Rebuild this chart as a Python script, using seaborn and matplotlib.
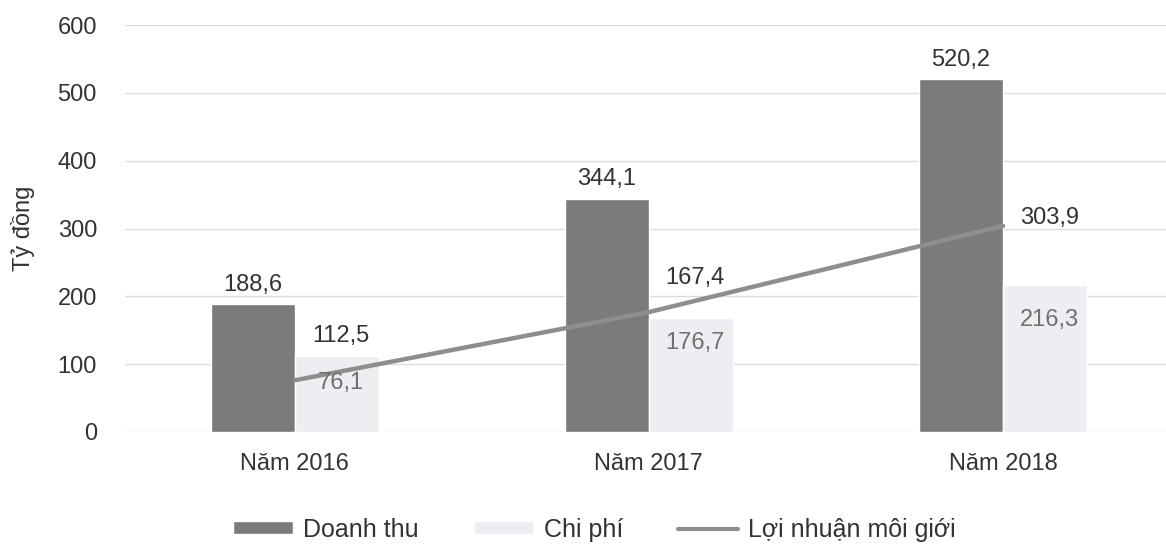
import pandas as pd
import matplotlib.pyplot as plt
import seaborn as sns
from matplotlib.patches import Patch
from matplotlib.lines import Line2D

# Dữ liệu
nam = ['Năm 2016', 'Năm 2017', 'Năm 2018']
doanh_thu = [188.6, 344.1, 520.2]
chi_phi = [112.5, 167.4, 216.3]
loi_nhuan = [76.1, 176.7, 303.9]

df = pd.DataFrame({
    'nam': nam * 2,
    'gia_tri': doanh_thu + chi_phi,
    'loai': ['Doanh thu'] * 3 + ['Chi phí'] * 3,
})

sns.set_style('white')
plt.rcParams['font.family'] = ['Liberation Sans', 'DejaVu Sans']

fig = plt.figure(figsize=(11.66, 5.46), dpi=100)
ax = fig.add_axes([0.107, 0.209, 0.893, 0.745])

mau_dam = '#7b7b7b'
mau_nhat = '#eceef2'
mau_line = '#8e8e8e'
mau_chu = '#333333'
mau_xam = '#707070'

sns.barplot(data=df, x='nam', y='gia_tri', hue='loai', ax=ax, width=0.475,
            palette=[mau_dam, mau_nhat], saturation=1, legend=False)
sns.lineplot(x=[0, 1, 2], y=loi_nhuan, ax=ax, color=mau_line, linewidth=3.2)

ax.set_xlim(-0.48, 2.46)
ax.set_ylim(0, 600)
ax.set_yticks(range(0, 601, 100))
ax.grid(axis='y', color='#dcdcdc', linewidth=1)
ax.set_axisbelow(True)
for s in ax.spines.values():
    s.set_visible(False)
ax.tick_params(axis='y', length=0, pad=20, labelsize=17, labelcolor=mau_chu)
ax.tick_params(axis='x', length=0, pad=15, labelsize=17, labelcolor=mau_chu)
ax.set_xlabel('')
ax.set_ylabel('Tỷ đồng', fontsize=17, color=mau_chu, labelpad=16)

def fmt(v):
    return f'{v:.1f}'.replace('.', ',')

# nhãn giá trị: độ lệch (pixel) so với giá trị, màu chữ
off_cp = [20, 40, -35]
mau_cp = [mau_chu, mau_chu, mau_xam]
off_ln = [-3, -31, 8]
mau_ln = [mau_xam, mau_xam, mau_chu]
for i in range(3):
    ax.annotate(fmt(doanh_thu[i]), (i - 0.119, doanh_thu[i]), xytext=(0, 14),
                textcoords='offset points', ha='center', va='center',
                fontsize=17, color=mau_chu)
    ax.annotate(fmt(chi_phi[i]), (i + 0.13, chi_phi[i]),
                xytext=(0, off_cp[i] * 0.72), textcoords='offset points',
                ha='center', va='center', fontsize=17, color=mau_cp[i])
    ax.annotate(fmt(loi_nhuan[i]), (i + 0.13, loi_nhuan[i]),
                xytext=(0, off_ln[i] * 0.72), textcoords='offset points',
                ha='center', va='center', fontsize=17, color=mau_ln[i])

handles = [Patch(facecolor=mau_dam, label='Doanh thu'),
           Patch(facecolor=mau_nhat, label='Chi phí'),
           Line2D([0], [0], color=mau_line, linewidth=3, label='Lợi nhuận môi giới')]
fig.legend(handles=handles, loc='center', bbox_to_anchor=(0.51, 0.03), ncol=3,
           frameon=False, fontsize=18, handlelength=2.4, handleheight=0.45,
           handletextpad=0.4, columnspacing=2.2, labelcolor=mau_chu)

plt.savefig('out.png', dpi=100)
